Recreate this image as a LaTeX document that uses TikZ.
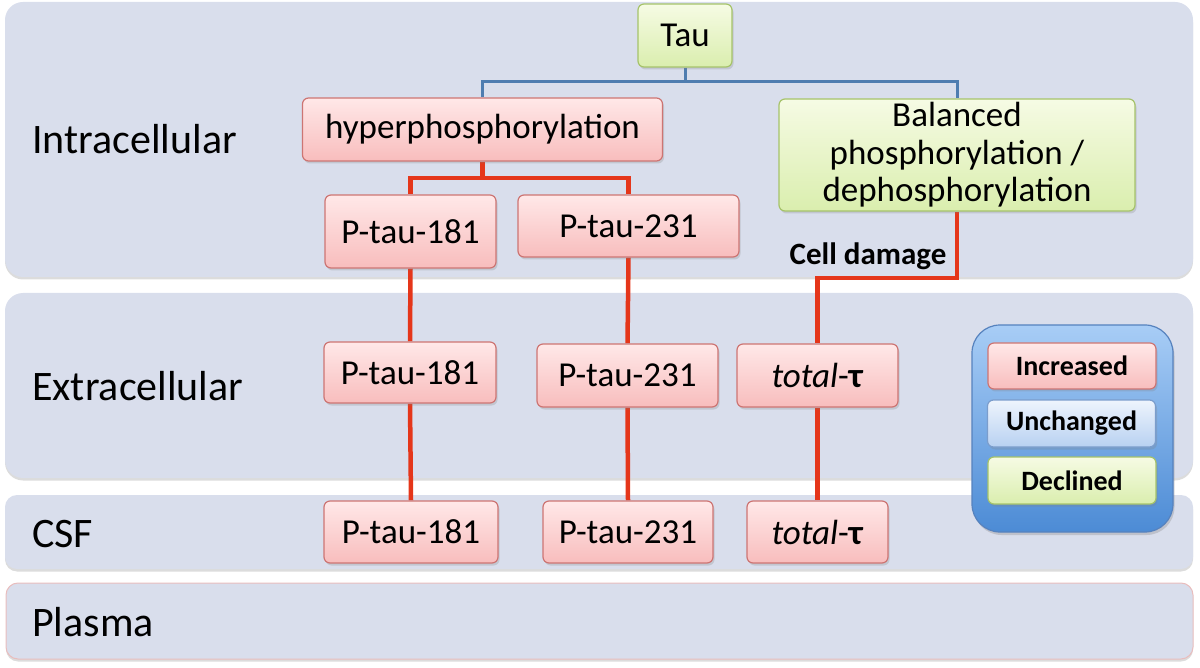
\documentclass[tikz,border=0pt]{standalone}
\usepackage{fontspec}
\setmainfont{Carlito}
\usetikzlibrary{shadows}
\pgfdeclarelayer{back}
\pgfdeclarelayer{links}
\pgfsetlayers{back,links,main}
\definecolor{bandfill}{HTML}{D9DEEC}
\definecolor{redtop}{HTML}{FFE8E8}
\definecolor{redbot}{HTML}{F8BDBD}
\definecolor{reddraw}{HTML}{CD7573}
\definecolor{grntop}{HTML}{F6FBE4}
\definecolor{grnbot}{HTML}{DAEEAE}
\definecolor{grndraw}{HTML}{A6C36A}
\definecolor{blutop}{HTML}{EEF4FD}
\definecolor{blubot}{HTML}{B8D1F1}
\definecolor{bludraw}{HTML}{7B9DCC}
\definecolor{legtop}{HTML}{A8CDF6}
\definecolor{legbot}{HTML}{4C8BD5}
\definecolor{legdraw}{HTML}{5682BE}
\definecolor{redline}{HTML}{E5361A}
\definecolor{blueline}{HTML}{4F7DB0}
\definecolor{plasmadraw}{HTML}{E9BDBD}
\tikzset{
  bandbox/.style={fill=bandfill, draw=none, rounded corners=18pt,
    drop shadow={opacity=0.28, shadow xshift=0pt, shadow yshift=-2.5pt}},
  bandlabel/.style={anchor=base west, inner sep=0pt, font=\fontsize{42}{46}\selectfont},
  boxbase/.style={rectangle, rounded corners=6pt, inner sep=0pt, line width=1.2pt,
    font=\fontsize{35}{37.5}\selectfont, align=center,
    drop shadow={opacity=0.25, shadow xshift=1.5pt, shadow yshift=-2.5pt}},
  incbox/.style={boxbase, top color=redtop, bottom color=redbot, draw=reddraw},
  decbox/.style={boxbase, top color=grntop, bottom color=grnbot, draw=grndraw},
  uncbox/.style={boxbase, top color=blutop, bottom color=blubot, draw=bludraw},
  legitem/.style={font=\fontsize{28}{30}\selectfont\bfseries, minimum width=168pt, minimum height=46pt},
  redlink/.style={draw=redline, line width=4.5pt},
  bluelink/.style={draw=blueline, line width=3pt},
}
\begin{document}
\begin{tikzpicture}[x=1pt,y=-1pt]
\useasboundingbox (0,0) rectangle (1200,668);

% bands
\begin{pgfonlayer}{back}
\path[bandbox] (5,2) rectangle (1193,277);
\path[bandbox] (5,293) rectangle (1193,478);
\path[bandbox, rounded corners=12pt] (5,495) rectangle (1193,569);
\path[bandbox, rounded corners=12pt, draw=plasmadraw, line width=1pt] (6,583) rectangle (1193,659);
\end{pgfonlayer}

\node[bandlabel] (lintra) at (32,154) {Intracellular};
\node[bandlabel] (lextra) at (32,400) {Extracellular};
\node[bandlabel] (lcsf) at (32,547) {CSF};
\node[bandlabel] (lplasma) at (32,636) {Plasma};

% nodes
\node[decbox, minimum width=94pt, minimum height=63pt] (tau) at (685,35.5) {Tau};
\node[incbox, minimum width=360pt, minimum height=63pt] (hyper) at (482.5,129.5) {hyperphosphorylation};
\node[decbox, minimum width=356pt, minimum height=112pt] (bal) at (957,155) {Balanced\\phosphorylation /\\dephosphorylation};

\node[incbox, minimum width=171pt, minimum height=73pt] (p181a) at (410.5,231.5) {P-tau-181};
\node[incbox, minimum width=221pt, minimum height=62pt] (p231a) at (628.5,226) {P-tau-231};

\node[incbox, minimum width=172pt, minimum height=61pt] (p181b) at (410,372.5) {P-tau-181};
\node[incbox, minimum width=181pt, minimum height=63pt] (p231b) at (627.5,375.5) {P-tau-231};
\node[incbox, minimum width=161pt, minimum height=63pt] (totb) at (817.5,375.5) {\textit{total}-\textbf{τ}};

\node[incbox, minimum width=174pt, minimum height=62pt] (p181c) at (411,532) {P-tau-181};
\node[incbox, minimum width=170pt, minimum height=62pt] (p231c) at (628,532) {P-tau-231};
\node[incbox, minimum width=141pt, minimum height=62pt] (totc) at (817.5,532) {\textit{total}-\textbf{τ}};

\node[font=\fontsize{31}{33}\selectfont\bfseries, inner sep=0pt] (cd) at (868,256) {Cell damage};

% legend
\node[rectangle, rounded corners=28pt, minimum width=201pt, minimum height=207pt,
  top color=legtop, bottom color=legbot, draw=legdraw, line width=1.2pt,
  drop shadow={opacity=0.3, shadow xshift=1.5pt, shadow yshift=-3pt}] (legend) at (1072.5,428.5) {};
\node[incbox, legitem] (linc) at (1072,366) {Increased};
\node[uncbox, legitem, minimum height=47pt] (lunc) at (1071.5,423.5) {Unchanged};
\node[decbox, legitem, minimum height=47pt] (ldec) at (1072,480.5) {Declined};

% connectors
\begin{pgfonlayer}{links}
\coordinate (tj) at (685,82);
\draw[bluelink] (tau.south) -- (tj) -| (hyper.north);
\draw[bluelink] (tj) -| (bal.north);
\coordinate (hj) at (482.5,178);
\draw[redlink] (hyper.south) -- (hj) -| (p181a.north);
\draw[redlink] (hj) -| (p231a.north);
\draw[redlink] (p181a.south) -- (p181b.north);
\draw[redlink] (p181b.south) -- (p181c.north);
\draw[redlink] (p231a.south) -- (p231b.north);
\draw[redlink] (p231b.south) -- (p231c.north);
\coordinate (bj) at (957,278);
\draw[redlink] (bal.south) -- (bj) -| (totb.north);
\draw[redlink] (totb.south) -- (totc.north);
\end{pgfonlayer}
\end{tikzpicture}
\end{document}
